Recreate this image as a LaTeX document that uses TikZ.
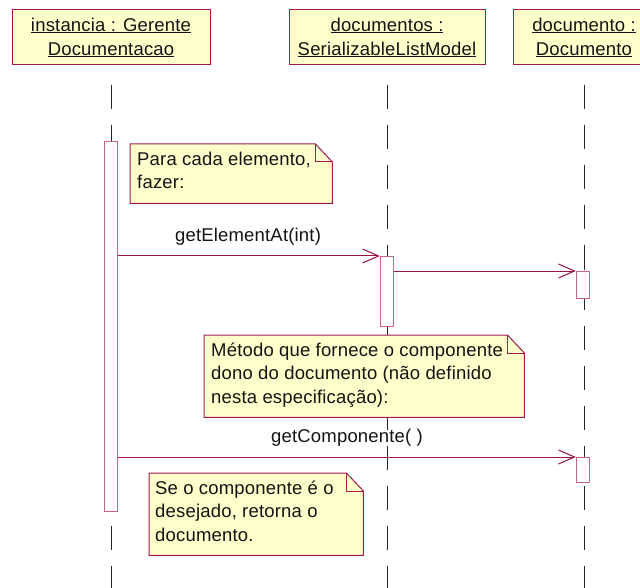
\documentclass[tikz,border=0pt]{standalone}
\usepackage{fontspec}
\setmainfont[LetterSpace=1.0]{Liberation Sans}
\usetikzlibrary{arrows.meta}
\definecolor{umlborder}{RGB}{163,25,74}
\definecolor{umlbar}{RGB}{200,100,140}
\definecolor{umlfill}{RGB}{255,255,204}
\definecolor{umlarrow}{RGB}{158,18,66}
\definecolor{umltext}{RGB}{20,20,20}
\newcommand\ulin[1]{\setbox0\hbox{#1}\rlap{\rule[-2.2pt]{\wd0}{1pt}}\box0}
\newcommand\drawnote[1]{%
  \draw[notepath] (#1.north west) -- ([xshift=-17pt]#1.north east)
    -- ([yshift=-18pt]#1.north east) -- (#1.south east) -- (#1.south west) -- cycle;
  \draw[notefold] ([xshift=-17pt]#1.north east) -- ([xshift=-17pt,yshift=-18pt]#1.north east)
    -- ([yshift=-18pt]#1.north east);}
\begin{document}
\begin{tikzpicture}[x=1pt,y=-1pt,
  txt/.style={font=\fontsize{18.5}{24}\selectfont, text=umltext},
  head/.style={txt, draw=umlborder, fill=umlfill, line width=1pt, align=center, inner sep=0pt, minimum height=55pt},
  lifeline/.style={draw=black!85, line width=0.9pt, dash pattern=on 24pt off 16pt, shorten <=20pt},
  bar/.style={draw=umlbar, fill=white, line width=1pt, minimum width=13.5pt, inner sep=0pt, anchor=north},
  notebox/.style={minimum width=#1, inner sep=0pt, anchor=north west},
  notepath/.style={draw=umlborder, fill=umlfill, line width=1pt},
  notefold/.style={draw=umlborder, line width=1pt},
  notetext/.style={font=\fontsize{18.5}{23.5}\selectfont, text=umltext, align=left, inner sep=0pt, anchor=north west},
  msg/.style={draw=umlarrow, line width=1pt, -{Straight Barb[length=16pt,width=14pt,line width=1pt]}},
  msglabel/.style={txt, inner sep=0pt, anchor=base}
]
\useasboundingbox[fill=white] (0,0) rectangle (640,588);

% headers
\node[head, minimum width=198pt] (h1) at (111,37.5) {\ulin{instancia : Gerente}\\\ulin{Documentacao}};
\node[head, minimum width=196pt] (h2) at (387,37.5) {\ulin{documentos :}\\\ulin{SerializableListModel}};
\node[head, minimum width=142pt] (h3) at (584,37.5) {\ulin{documento :}\\\ulin{Documento}};

% lifelines
\coordinate (e1) at (111,588);
\coordinate (e2) at (387,588);
\coordinate (e3) at (584,588);
\draw[lifeline] (h1.south) -- (e1);
\draw[lifeline] (h2.south) -- (e2);
\draw[lifeline] (h3.south) -- (e3);

% activation bars
\node[bar, minimum height=370pt] (b1) at (111,141) {};
\node[bar, minimum height=70pt] (b2) at (387,256) {};
\node[bar, minimum height=27pt] (b3a) at (583,271) {};
\node[bar, minimum height=25pt] (b3b) at (583,457) {};

% messages
\draw[msg] (b1.east |- b2.north west) -- (b2.north west);
\node[msglabel] (m1) at (248,242) {getElementAt(int)};
\draw[msg] ([yshift=-15pt]b2.north east) -- (b3a.north west);
\draw[msg] (b1.east |- b3b.north west) -- (b3b.north west);
\node[msglabel] (m3) at (347,442) {getComponente( )};

% notes
\node[notebox=202pt, minimum height=59pt] (n1) at (130,144) {};
\drawnote{n1}
\node[notetext] (n1t) at ([shift={(7pt,-6pt)}]n1.north west) {\rule{0pt}{15pt}Para cada elemento,\\fazer:};

\node[notebox=320pt, minimum height=82pt] (n2) at (204,335) {};
\drawnote{n2}
\node[notetext] (n2t) at ([shift={(7pt,-6pt)}]n2.north west) {\rule{0pt}{15pt}Método que fornece o componente\\dono do documento (não definido\\nesta especificação):};

\node[notebox=214pt, minimum height=82pt] (n3) at (149,473) {};
\drawnote{n3}
\node[notetext] (n3t) at ([shift={(6pt,-6pt)}]n3.north west) {\rule{0pt}{15pt}Se o componente é o\\desejado, retorna o\\documento.};
\end{tikzpicture}
\end{document}
